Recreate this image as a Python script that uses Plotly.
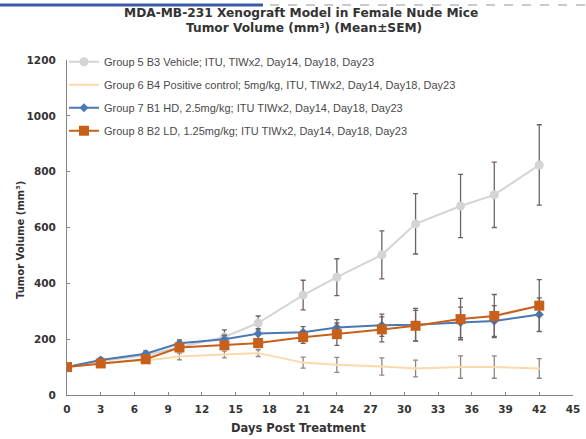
import plotly.graph_objects as go

days = [0, 3, 7, 10, 14, 17, 21, 24, 28, 31, 35, 38, 42]

g5_name = "Group 5 B3 Vehicle; ITU, TIWx2, Day14, Day18, Day23"
g5_mean = [100, 122, 142, 172, 208, 258, 358, 422, 502, 613, 677, 717, 824]
g5_sem = [8, 10, 12, 15, 25, 25, 53, 66, 86, 108, 113, 117, 144]

g6_name = "Group 6 B4 Positive control; 5mg/kg, ITU, TIWx2, Day14, Day18, Day23"
g6_mean = [100, 116, 124, 138, 145, 150, 116, 108, 102, 95, 100, 100, 95]
g6_sem = [6, 8, 10, 12, 12, 12, 20, 27, 31, 30, 40, 40, 35]

g7_name = "Group 7 B1 HD, 2.5mg/kg; ITU TIWx2, Day14, Day18, Day23"
g7_mean = [100, 125, 148, 185, 200, 220, 225, 242, 250, 252, 260, 265, 288]
g7_sem = [5, 8, 10, 12, 14, 18, 20, 28, 40, 58, 55, 55, 60]

g8_name = "Group 8 B2 LD, 1.25mg/kg; ITU TIWx2, Day14, Day18, Day23"
g8_mean = [100, 113, 128, 170, 178, 186, 207, 218, 235, 248, 272, 283, 320]
g8_sem = [5, 8, 10, 12, 14, 16, 22, 40, 45, 55, 74, 77, 93]

y_ticks = [0, 200, 400, 600, 800, 1000, 1200]
x_ticks = list(range(0, 46, 3))

title_line1 = "MDA-MB-231 Xenograft Model in Female Nude Mice"
title_line2 = "Tumor Volume (mm³) (Mean±SEM)"
x_title = "Days Post Treatment"
y_title = "Tumor Volume (mm³)"

BOLD = "DejaVu Sans"
fig = go.Figure()

def add(name, mean, sem, color, width, marker, msize, ecolor, grp):
    fig.add_trace(go.Scatter(
        x=days, y=mean, name=name, mode="lines+markers", legendgroup=grp,
        line=dict(color=color, width=width),
        marker=dict(symbol=marker, size=msize, color=color),
        error_y=dict(type="data", array=sem, visible=True, color=ecolor,
                     thickness=1.3, width=2.5),
    ))

add(g5_name, g5_mean, g5_sem, "#d4d4d4", 2, "circle", 9, "#6e6360", "g5")
add(g6_name, g6_mean, g6_sem, "#fbd9aa", 2, "circle", 2, "#8f8683", "g6")
add(g7_name, g7_mean, g7_sem, "#4a78b5", 2, "diamond", 7, "#6e6360", "g7")
add(g8_name, g8_mean, g8_sem, "#c8601c", 2, "square", 10, "#6e6360", "g8")

fig.update_layout(
    width=586, height=439,
    paper_bgcolor="white", plot_bgcolor="white",
    margin=dict(l=67, r=13, t=60, b=44),
    font=dict(family="Liberation Sans, Arial", color="#444444"),
    legend=dict(
        x=-0.006, y=1.038, xanchor="left", yanchor="top",
        bgcolor="rgba(0,0,0,0)", borderwidth=0,
        font=dict(size=11, color="#4a4a4a", family="Liberation Sans, Arial"),
        tracegroupgap=4, itemwidth=30,
    ),
    showlegend=True,
)

fig.update_xaxes(
    range=[0, 45], tickvals=x_ticks, ticktext=[str(v) for v in x_ticks],
    showline=True, linecolor="#8a8280", linewidth=1.2,
    ticks="inside", ticklen=3, tickcolor="#8a8280",
    showgrid=False, zeroline=False, automargin=False,
    tickfont=dict(size=10.5, color="#333333", family=BOLD, weight="bold"),
    ticklabelstandoff=4,
)
fig.update_yaxes(
    range=[0, 1200], tickvals=y_ticks, ticktext=[str(v) for v in y_ticks],
    showline=True, linecolor="#8a8280", linewidth=1.2,
    ticks="inside", ticklen=3, tickcolor="#8a8280",
    showgrid=False, zeroline=False, automargin=False,
    tickfont=dict(size=10.5, color="#333333", family=BOLD, weight="bold"),
    ticklabelstandoff=8,
)

# titles
fig.add_annotation(text=title_line1, xref="paper", yref="paper", x=(301 - 67) / 506, y=(395 - 13) / 335,
                   showarrow=False, xanchor="center", yanchor="middle",
                   font=dict(family=BOLD, size=12.2, color="#333333", weight="bold"))
fig.add_annotation(text=title_line2, xref="paper", yref="paper", x=(304 - 67) / 506, y=(395 - 28) / 335,
                   showarrow=False, xanchor="center", yanchor="middle",
                   font=dict(family=BOLD, size=12.2, color="#333333", weight="bold"))
fig.add_annotation(text=x_title, xref="paper", yref="paper", x=(298 - 67) / 506, y=(395 - 428) / 335,
                   showarrow=False, xanchor="center", yanchor="middle",
                   font=dict(family=BOLD, size=11.5, color="#333333", weight="bold"))
fig.add_annotation(text=y_title, xref="paper", yref="paper", x=(20 - 67) / 506, y=(395 - 240) / 335,
                   showarrow=False, xanchor="center", yanchor="middle", textangle=-90,
                   font=dict(family=BOLD, size=10, color="#333333", weight="bold"))

# page decoration at the top
fig.add_shape(type="line", xref="paper", yref="paper", x0=-0.1324, x1=1.0257,
              y0=(395 - 5) / 335, y1=(395 - 5) / 335,
              line=dict(color="#8f96a8", width=1.2, dash="dash"))
fig.add_shape(type="line", xref="paper", yref="paper", x0=-0.1324, x1=(263 - 67) / 506,
              y0=(395 - 5) / 335, y1=(395 - 5) / 335,
              line=dict(color="#3a5aa8", width=3))

fig.write_html("out.html", config={"displayModeBar": False},
               post_script="document.body.style.margin='0';document.body.style.padding='0';")
